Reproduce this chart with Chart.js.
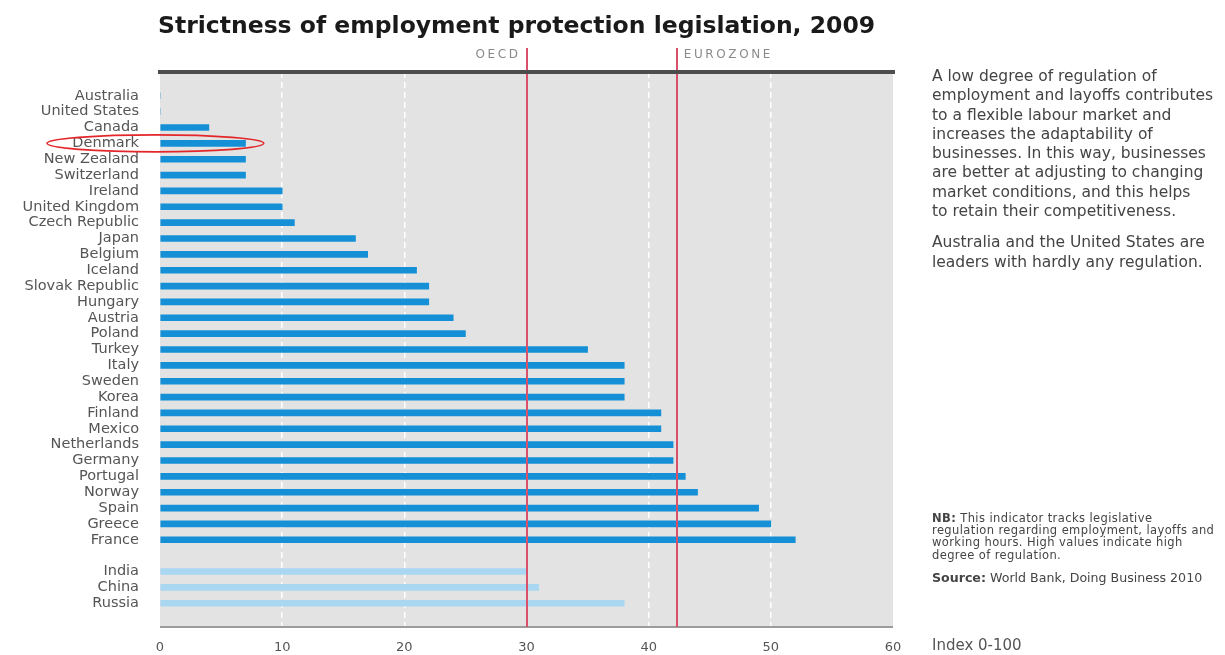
<!DOCTYPE html>
<html lang="en">
<head>
  <meta charset="UTF-8" />
  <title>Strictness of employment protection legislation, 2009</title>
  <script src="https://cdn.jsdelivr.net/npm/chart.js"></script>
  <style>
    body {
      margin: 0;
      width: 1225px;
      height: 655px;
      background: #fff;
      position: relative;
      overflow: hidden;
      font-family: 'DejaVu Sans', sans-serif;
      color: #444;
    }

    #chartWrap {
      position: absolute;
      left: 0;
      top: 0;
      width: 1225px;
      height: 655px;
    }

    h1 {
      position: absolute;
      left: 158px;
      top: 10px;
      margin: 0;
      font-family: 'DejaVu Sans', sans-serif;
      font-weight: 700;
      font-size: 23.5px;
      line-height: 30px;
      color: #1a1a1a;
      white-space: nowrap;
    }

    .note {
      position: absolute;
      left: 932px;
      white-space: nowrap;
      color: #444;
    }

    .intro {
      top: 67px;
      font-size: 15.5px;
      line-height: 19.3px;
    }

    .intro p {
      margin: 0 0 12px 0;
    }

    .nb {
      top: 512px;
      font-size: 11.5px;
      letter-spacing: 0.4px;
      line-height: 12.2px;
    }

    .source {
      top: 571px;
      font-size: 12.6px;
      line-height: 14px;
    }

    .unit {
      top: 636px;
      font-size: 15px;
      line-height: 18px;
      color: #555;
    }
  </style>
</head>
<body>

  <div id="chartWrap"><canvas id="eplChart"></canvas></div>

  <h1>Strictness of employment protection legislation, 2009</h1>

  <div class="note intro">
    <p>A low degree of regulation of<br>employment and layoffs contributes<br>to a flexible labour market and<br>increases the adaptability of<br>businesses. In this way, businesses<br>are better at adjusting to changing<br>market conditions, and this helps<br>to retain their competitiveness.</p>
    <p>Australia and the United States are<br>leaders with hardly any regulation.</p>
  </div>

  <div class="note nb"><b>NB:</b> This indicator tracks legislative<br>regulation regarding employment, layoffs and<br>working hours. High values indicate high<br>degree of regulation.</div>

  <div class="note source"><b>Source:</b> World Bank, Doing Business 2010</div>

  <div class="note unit">Index 0-100</div>

  <script>
    // OECD members, least to most regulated
    const oecdCountries = ['Australia', 'United States', 'Canada', 'Denmark', 'New Zealand', 'Switzerland',
      'Ireland', 'United Kingdom', 'Czech Republic', 'Japan', 'Belgium', 'Iceland', 'Slovak Republic',
      'Hungary', 'Austria', 'Poland', 'Turkey', 'Italy', 'Sweden', 'Korea', 'Finland', 'Mexico',
      'Netherlands', 'Germany', 'Portugal', 'Norway', 'Spain', 'Greece', 'France'];
    const oecdValues = [0, 0, 4, 7, 7, 7, 10, 10, 11, 16, 17, 21, 22, 22, 24, 25, 35, 38, 38, 38,
      41, 41, 42, 42, 43, 44, 49, 50, 52];

    const otherCountries = ['India', 'China', 'Russia'];
    const otherValues = [30, 31, 38];

    const xTicks = [0, 10, 20, 30, 40, 50, 60];

    // reference averages
    const oecdAverage = 30;
    const eurozoneAverage = 42.3;
    const highlighted = 'Denmark';

    // rows: blank, OECD, blank, others, blank
    const labels = [''].concat(oecdCountries, [''], otherCountries, ['']);
    const oecdData = [null].concat(oecdValues, [null], otherCountries.map(() => null), [null]);
    const otherData = [null].concat(oecdCountries.map(() => null), [null], otherValues, [null]);

    const decor = {
      id: 'decor',
      beforeDraw(chart) {
        const { ctx, chartArea: a } = chart;
        ctx.save();
        ctx.fillStyle = '#e3e3e3';
        ctx.fillRect(a.left, a.top, a.right - a.left, a.bottom - a.top);
        ctx.restore();
      },
      afterDatasetsDraw(chart) {
        const { ctx, chartArea: a, scales } = chart;
        const x = scales.x, y = scales.y;
        ctx.save();

        // bottom baseline
        ctx.strokeStyle = '#9c9c9c';
        ctx.lineWidth = 2;
        ctx.beginPath();
        ctx.moveTo(a.left, a.bottom);
        ctx.lineTo(a.right, a.bottom);
        ctx.stroke();

        // average lines
        ctx.strokeStyle = '#d9506a';
        ctx.lineWidth = 2;
        [oecdAverage, eurozoneAverage].forEach(v => {
          const px = Math.round(x.getPixelForValue(v));
          ctx.beginPath();
          ctx.moveTo(px, a.top - 24);
          ctx.lineTo(px, a.bottom);
          ctx.stroke();
        });

        // top rule
        ctx.strokeStyle = '#4d4d4d';
        ctx.lineWidth = 4;
        ctx.beginPath();
        ctx.moveTo(a.left - 2, a.top);
        ctx.lineTo(a.right + 2, a.top);
        ctx.stroke();

        // average labels
        ctx.fillStyle = '#8a8a8a';
        ctx.font = '12px "DejaVu Sans"';
        ctx.letterSpacing = '2.6px';
        ctx.textBaseline = 'middle';
        ctx.textAlign = 'right';
        ctx.fillText('OECD', x.getPixelForValue(oecdAverage) - 6, a.top - 17);
        ctx.textAlign = 'left';
        ctx.fillText('EUROZONE', x.getPixelForValue(eurozoneAverage) + 7, a.top - 17);

        // highlight ring
        const cy = y.getPixelForValue(labels.indexOf(highlighted));
        const left = x.getPixelForValue(0) - 113;
        const right = x.getPixelForValue(8.5);
        ctx.letterSpacing = '0px';
        ctx.strokeStyle = '#e3262a';
        ctx.lineWidth = 1.6;
        ctx.beginPath();
        ctx.ellipse((left + right) / 2, cy, (right - left) / 2, 8.5, 0, 0, Math.PI * 2);
        ctx.stroke();

        ctx.restore();
      }
    };

    new Chart(document.getElementById('eplChart'), {
      type: 'bar',
      data: {
        labels: labels,
        datasets: [
          { label: 'OECD', data: oecdData, backgroundColor: '#1590d6', barThickness: 6, grouped: false },
          { label: 'Other', data: otherData, backgroundColor: '#a9d6f0', barThickness: 6, grouped: false }
        ]
      },
      options: {
        indexAxis: 'y',
        responsive: true,
        maintainAspectRatio: false,
        animation: false,
        layout: { padding: { top: 72, right: 332, left: 0, bottom: 0 } },
        plugins: {
          legend: { display: false },
          tooltip: { enabled: false }
        },
        scales: {
          x: {
            min: 0,
            max: 60,
            afterBuildTicks: axis => { axis.ticks = xTicks.map(v => ({ value: v })); },
            afterFit: axis => { axis.height = 28; },
            ticks: {
              color: '#555',
              font: { family: 'DejaVu Sans', size: 13 },
              padding: 13
            },
            grid: {
              color: ctx => (ctx.tick && ctx.tick.value > 0 && ctx.tick.value < 60) ? '#ffffff' : 'rgba(0,0,0,0)',
              lineWidth: 1.5,
              drawTicks: false
            },
            border: { display: false, dash: [6, 4] }
          },
          y: {
            afterFit: axis => { axis.width = 160; },
            ticks: {
              color: '#555',
              font: { family: 'DejaVu Sans', size: 14.5 },
              padding: 13,
              autoSkip: false
            },
            grid: { display: false },
            border: { display: false }
          }
        }
      },
      plugins: [decor]
    });
  </script>

</body>
</html>
